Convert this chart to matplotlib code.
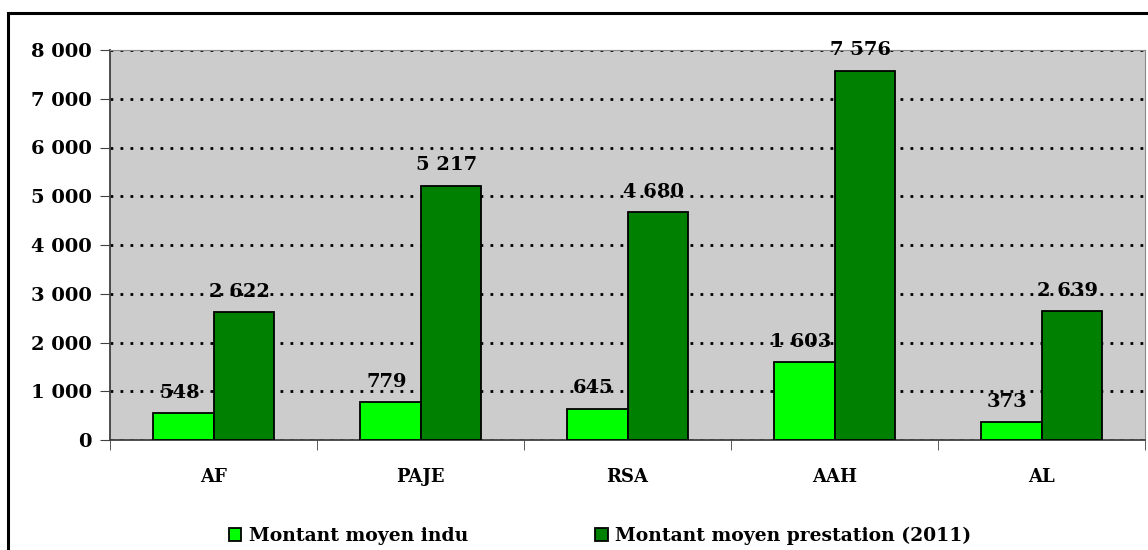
import numpy as np
import matplotlib
matplotlib.use('Agg')
import matplotlib.pyplot as plt
from matplotlib.patches import Rectangle

categories = ['AF', 'PAJE', 'RSA', 'AAH', 'AL']
indu = [548, 779, 645, 1603, 373]
prestation = [2622, 5217, 4680, 7576, 2639]
series_names = ['Montant moyen indu', 'Montant moyen prestation (2011)']
yticks = [0, 1000, 2000, 3000, 4000, 5000, 6000, 7000, 8000]

plt.rcParams['font.family'] = ['DejaVu Serif']
plt.rcParams['font.weight'] = 'bold'

def fmt(v):
    return '{:,}'.format(v).replace(',', ' ')

fig = plt.figure(figsize=(11.48, 5.5), dpi=100)
ax = fig.add_axes([110/1148, 1-440/550, 1035/1148, 390/550])
ax.set_facecolor('#CCCCCC')

# cadre autour du graphique
fig.patches.append(Rectangle((8/1148, -0.1), 1.2, 1.1-13/550, transform=fig.transFigure,
                             fill=False, edgecolor='black', linewidth=2.2))

x = np.arange(len(categories))
w = 0.29
b1 = ax.bar(x - w/2, indu, w, color='#00FF00', edgecolor='black', linewidth=1.3, zorder=3, label=series_names[0])
b2 = ax.bar(x + w/2, prestation, w, color='#008000', edgecolor='black', linewidth=1.3, zorder=3, label=series_names[1])

for rects, vals in [(b1, indu), (b2, prestation)]:
    for r, v in zip(rects, vals):
        ax.text(r.get_x() + r.get_width()/2 - 0.02, v + 230, fmt(v), ha='center', va='bottom',
                fontsize=14, fontweight='bold', zorder=4)

ax.set_xlim(-0.5, len(categories) - 0.5)
ax.set_ylim(0, 8000)
ax.set_yticks(yticks)
ax.set_yticklabels([fmt(t) for t in yticks], fontsize=14, fontweight='bold')
ax.set_xticks(x)
ax.set_xticklabels(categories, fontsize=13, fontweight='bold')
ax.tick_params(axis='x', length=0, pad=20)
ax.set_xticks(list(np.arange(len(categories)) + 0.5) + [-0.5], minor=True)
ax.tick_params(axis='x', which='minor', length=7, color='#404040')
ax.tick_params(axis='y', length=7, color='#404040', pad=6)

ax.grid(axis='y', color='black', linewidth=2, dashes=(1.0, 2.6), zorder=1)
ax.set_axisbelow(True)

for s in ['top', 'right']:
    ax.spines[s].set_color('#888888')
for s in ['left', 'bottom']:
    ax.spines[s].set_color('#404040')
    ax.spines[s].set_linewidth(1.3)

fig.legend(handles=[b1, b2], labels=series_names, loc='center left',
           bbox_to_anchor=(212/1148, 1-536/550), ncol=2, frameon=False,
           prop={'size': 13.5, 'weight': 'bold'}, handlelength=0.65, handleheight=0.65,
           columnspacing=6.8, handletextpad=0.4)

fig.savefig('out.png', dpi=100)
